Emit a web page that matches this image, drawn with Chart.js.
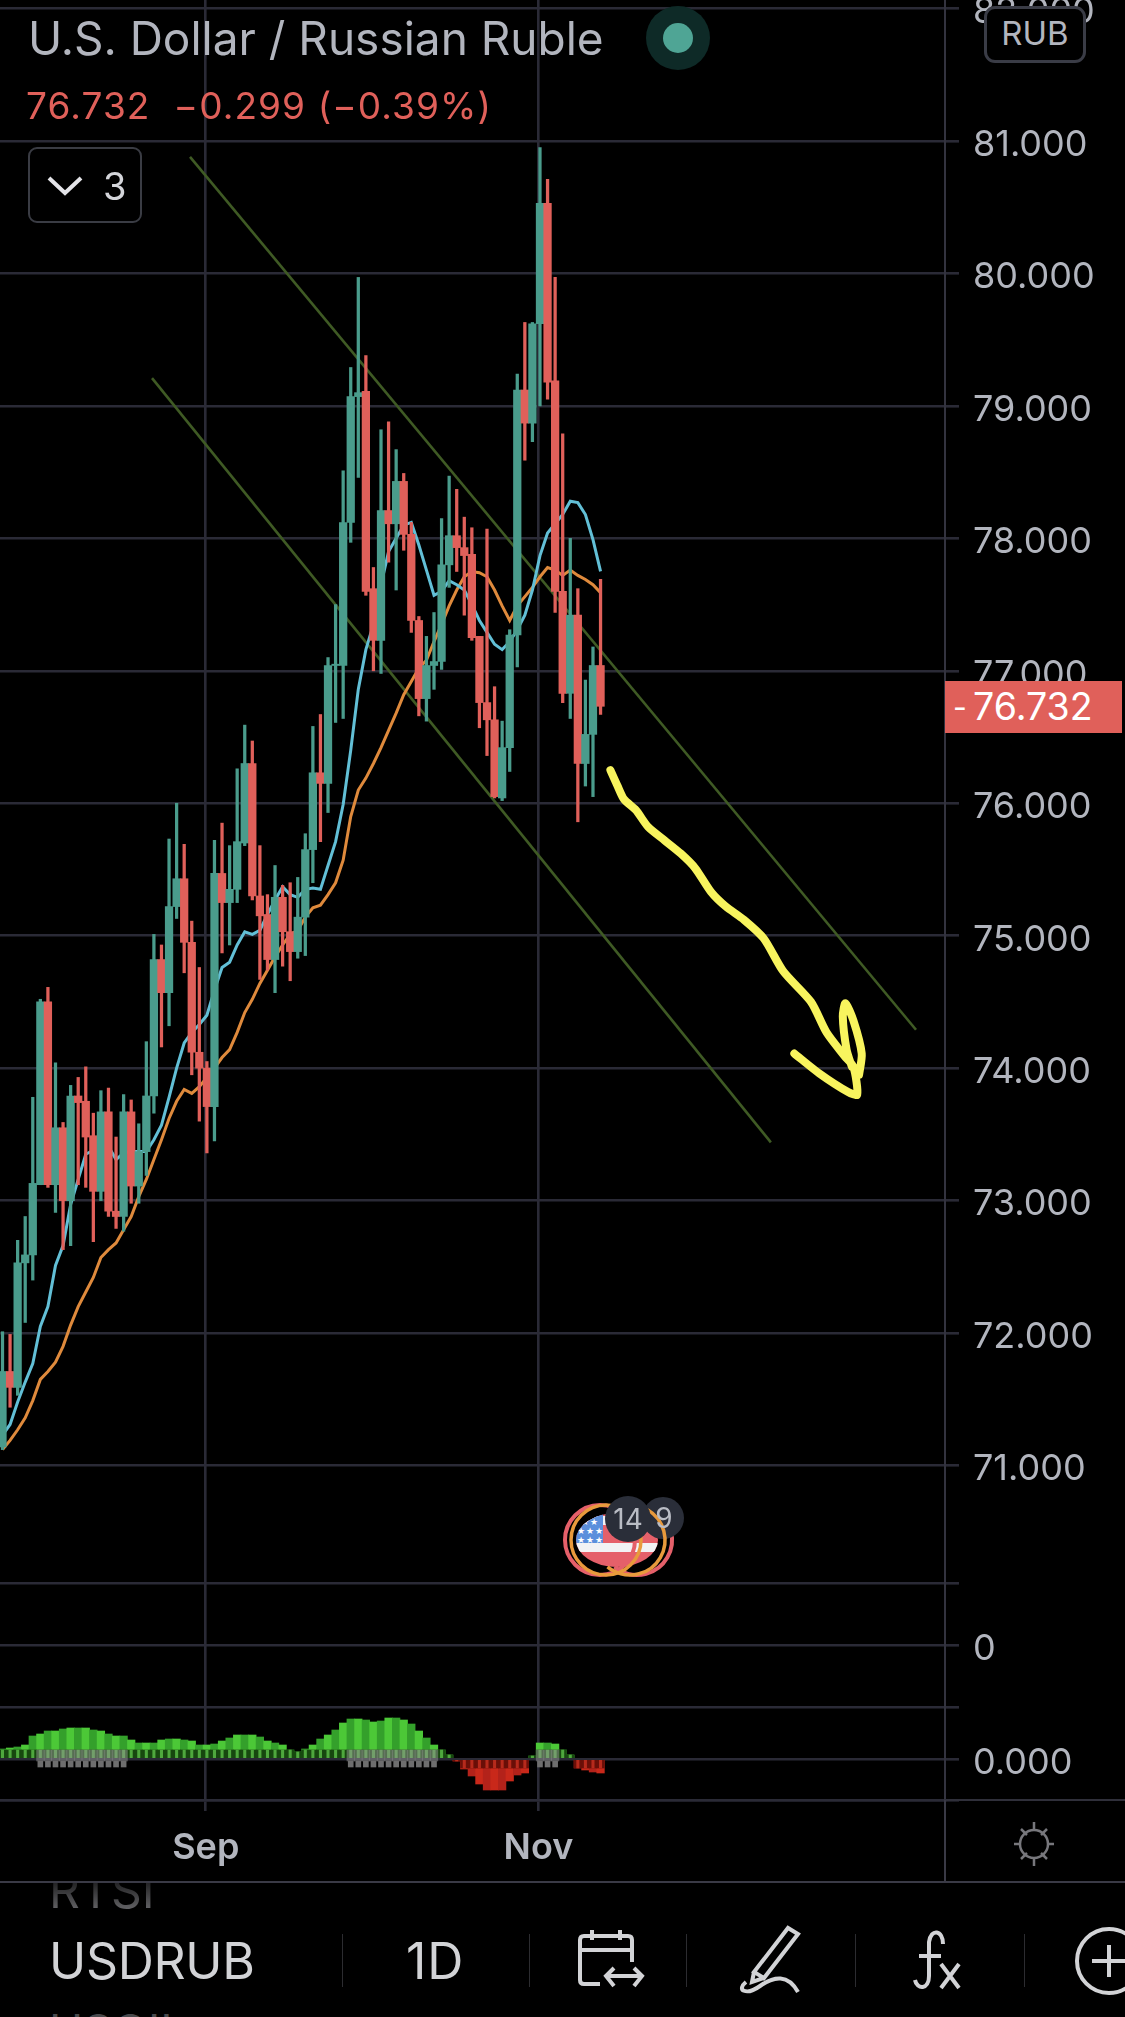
<!DOCTYPE html>
<html>
<head>
<meta charset="utf-8">
<title>USDRUB</title>
<script src="https://cdn.jsdelivr.net/npm/chart.js@4/dist/chart.umd.min.js"></script>
<style>
  html, body { margin: 0; padding: 0; background: #000; }
  body { width: 1125px; height: 2017px; position: relative; overflow: hidden; font-family: Inter, Roboto, sans-serif; color: #b2b5be; }
  #chart { position: absolute; left: 0; top: 0; }
  .abs { position: absolute; white-space: nowrap; }
  .vline { position: absolute; width: 1px; top: 1934px; height: 53px; background: #2c2c30; }
</style>
</head>
<body>
<canvas id="chart" width="1125" height="1882"></canvas>

<!-- header -->
<div class="abs" id="title" style="left:28px;top:11px;font-size:46px;line-height:54px;">U.S. Dollar / Russian Ruble</div>
<div class="abs" style="left:26px;top:84px;font-size:37px;line-height:44px;letter-spacing:1.1px;color:#e0605a;">76.732&nbsp; −0.299 (−0.39%)</div>
<div class="abs" style="left:646px;top:6px;width:64px;height:64px;border-radius:50%;background:#0e2a27;"></div>
<div class="abs" style="left:663px;top:23px;width:30px;height:30px;border-radius:50%;background:#4fa595;"></div>
<div class="abs" style="left:28px;top:147px;width:114px;height:76px;border:2px solid #3a3c44;border-radius:9px;box-sizing:border-box;"></div>
<svg class="abs" style="left:46px;top:174px" width="40" height="24"><path d="M3 4 L19 19 L35 4" fill="none" stroke="#e4e4e8" stroke-width="4"/></svg>
<div class="abs" style="left:103px;top:164px;font-size:38px;line-height:44px;color:#d4d5da;">3</div>
<div class="abs" style="left:984px;top:6px;width:102px;height:57px;border:3px solid #3a3c46;border-radius:11px;box-sizing:border-box;background:#000;text-align:center;font-size:33px;line-height:49px;">RUB</div>

<!-- last price tag -->
<div class="abs" style="left:945px;top:681px;width:177px;height:52px;background:#e0605a;color:#fff;font-size:37.5px;line-height:52px;">
  <span class="abs" style="left:8px;font-size:30px;">-</span><span class="abs" style="left:28px;">76.732</span>
</div>

<!-- event bubbles -->
<svg class="abs" style="left:550px;top:1480px" width="140" height="110" viewBox="550 1480 140 110">
  <defs><clipPath id="flagClip"><ellipse cx="617" cy="1540" rx="41" ry="27"/></clipPath></defs>
  <g clip-path="url(#flagClip)">
    <rect x="570" y="1505" width="100" height="70" fill="#e5606a"/>
    <rect x="570" y="1516" width="100" height="9" fill="#f2f2f4"/>
    <rect x="570" y="1543" width="100" height="9" fill="#f2f2f4"/>
    <rect x="570" y="1510" width="33" height="33" fill="#5b8fdc"/>
    <g fill="#fff" font-size="9" font-family="DejaVu Sans">
      <text x="581" y="1525">★</text><text x="590" y="1525">★</text>
      <text x="577" y="1534">★</text><text x="586" y="1534">★</text><text x="595" y="1534">★</text>
      <text x="577" y="1543">★</text><text x="586" y="1543">★</text><text x="595" y="1543">★</text>
    </g>
  </g>
  <circle cx="600" cy="1540" r="35" fill="none" stroke="#e5606a" stroke-width="4"/>
  <circle cx="637" cy="1540" r="35" fill="none" stroke="#e5606a" stroke-width="4" pathLength="360" stroke-dasharray="190 170" transform="rotate(-60 637 1540)"/>
  <circle cx="606" cy="1540" r="35" fill="none" stroke="#e89a3c" stroke-width="3.5"/>
  <circle cx="663" cy="1518" r="21" fill="#2a2e39"/>
  <circle cx="630" cy="1540" r="35" fill="none" stroke="#e89a3c" stroke-width="3.5" pathLength="360" stroke-dasharray="190 170" transform="rotate(-60 630 1540)"/>
  <circle cx="628" cy="1519" r="23" fill="#2a2e39"/>
  <text x="628" y="1529" text-anchor="middle" font-size="28" fill="#b9bcc4" font-family="Inter">14</text>
  <text x="664" y="1528" text-anchor="middle" font-size="28" fill="#b9bcc4" font-family="Inter">9</text>
</svg>

<!-- bottom rules -->
<div class="abs" style="left:945px;top:1799px;width:180px;height:2px;background:#2f2f3a;"></div>
<div class="abs" style="left:944px;top:1800px;width:2px;height:82px;background:#3a3a46;"></div>
<div class="abs" style="left:0;top:1881px;width:1125px;height:2px;background:#3a3a46;"></div>

<!-- sun icon -->
<svg class="abs" style="left:1008px;top:1820px" width="52" height="48" viewBox="0 0 52 48" fill="none" stroke="#77777c" stroke-width="2.5">
  <circle cx="26" cy="24" r="14"/>
  <path d="M26 2V10 M26 38V46 M6 24H12 M40 24H46 M13 9l6 6 M39 9l-6 6 M13 39l6-6 M39 39l-6-6"/>
</svg>

<!-- toolbar -->
<div class="abs" style="left:0;top:1883px;width:1125px;height:33px;overflow:hidden;">
  <div class="abs" style="left:49px;top:-19px;font-size:48px;line-height:54px;background:linear-gradient(#1c1c1e 30%,#6a6a6d 90%);-webkit-background-clip:text;background-clip:text;color:transparent;">RTSI</div>
</div>
<div class="abs" style="left:49px;top:1933px;font-size:50px;line-height:56px;letter-spacing:-0.3px;color:#d2d3d6;">USDRUB</div>
<div class="abs" style="left:406px;top:1933px;font-size:50px;line-height:56px;letter-spacing:1px;color:#d2d3d6;">1D</div>
<div class="vline" style="left:342px"></div>
<div class="vline" style="left:529px"></div>
<div class="vline" style="left:686px"></div>
<div class="vline" style="left:855px"></div>
<div class="vline" style="left:1024px"></div>
<svg class="abs" style="left:570px;top:1920px" width="80" height="80" fill="none" stroke="#d2d3d6" stroke-width="4">
  <path d="M30 64H14 Q10 64 10 60V20 Q10 16 14 16H58 Q62 16 62 20V42"/>
  <path d="M10 30H62 M22 10V20 M50 10V20"/>
  <path d="M38 56H70 M44 48L36 56L44 66 M64 48L72 56L64 66"/>
</svg>
<svg class="abs" style="left:738px;top:1920px" width="70" height="80" fill="none" stroke="#d2d3d6" stroke-width="4">
  <path d="M16 52L50 8 L60 14 L26 58 Z M16 52L14 62L26 58"/>
  <path d="M8 62 C-2 70 8 76 22 66 C36 56 50 54 60 72"/>
</svg>
<svg class="abs" style="left:905px;top:1920px" width="70" height="76" fill="none" stroke="#d2d3d6" stroke-width="4">
  <path d="M38 24 C38 10 26 8 24 22 L24 56 C24 70 12 70 10 60 M14 36H36"/>
  <path d="M36 44L54 68 M54 44L36 68"/>
</svg>
<svg class="abs" style="left:1070px;top:1920px" width="55" height="80" fill="none" stroke="#d2d3d6" stroke-width="4">
  <circle cx="39" cy="41" r="32"/>
  <path d="M39 25V57 M22 41H55"/>
</svg>
<div class="abs" style="left:0;top:2010px;width:1125px;height:7px;overflow:hidden;">
  <div class="abs" style="left:49px;top:-6px;font-size:46px;line-height:54px;color:#48494c;">USOIL</div>
</div>

<script>
// candles, one per trading day
const opens = [71.14,71.71,71.59,72.53,72.59,73.12,74.50,73.12,73.55,73.00,73.79,73.75,73.49,73.07,73.67,72.92,72.88,73.67,73.11,73.37,
  73.79,74.82,74.57,75.22,75.43,74.95,74.12,74.00,73.71,75.47,75.25,75.35,75.70,76.30,75.30,75.16,74.82,75.29,75.03,74.88,
  75.14,75.65,76.23,76.15,77.04,77.04,78.12,79.07,79.11,77.62,77.23,78.21,78.11,78.43,78.03,77.38,76.79,77.04,77.07,77.80,
  78.02,77.93,77.88,77.26,76.76,76.63,76.04,76.42,77.27,79.12,78.87,79.62,80.53,79.19,77.60,76.83,77.42,76.30,76.52,77.04];
const highs = [72.01,71.99,72.70,72.88,73.78,74.52,74.61,74.04,73.59,73.87,73.93,74.01,73.66,73.83,73.85,73.48,73.80,73.76,73.58,74.20,
  75.01,74.93,75.73,76.00,75.69,75.11,74.76,74.05,75.72,75.85,75.68,76.26,76.59,76.47,75.68,75.31,75.53,75.38,75.40,75.44,
  75.77,76.58,76.67,77.10,77.50,78.51,79.29,79.97,79.38,77.78,78.82,78.88,78.67,78.49,78.12,77.41,77.26,77.44,78.15,78.47,
  78.37,78.16,78.08,77.26,78.07,76.88,76.62,77.31,79.24,79.63,79.63,80.95,80.71,79.97,78.79,78.00,77.62,76.93,77.18,77.69];
const lows = [71.12,71.44,71.53,72.08,72.40,73.12,73.10,72.91,72.63,72.66,73.12,73.10,72.69,73.00,72.88,72.79,72.77,72.98,72.98,73.19,
  73.66,74.16,74.32,75.13,74.72,73.95,73.60,73.36,73.45,74.87,74.93,75.25,75.68,75.27,74.67,74.74,74.57,74.77,74.66,74.83,
  74.85,75.40,75.71,75.93,76.61,76.64,77.97,78.46,77.57,77.00,76.98,77.82,77.61,77.91,77.29,76.66,76.62,76.86,77.01,77.63,
  77.75,77.42,77.23,76.57,76.36,76.04,76.02,76.24,77.03,78.59,78.73,79.00,79.05,77.44,76.76,76.64,75.86,76.13,76.05,76.67];
const closes = [71.71,71.59,72.53,72.59,73.13,74.50,73.12,73.55,73.00,73.79,73.74,73.48,73.07,73.67,72.92,72.88,73.67,73.11,73.37,73.79,
  74.82,74.57,75.22,75.43,74.95,74.12,74.00,73.71,75.47,75.25,75.35,75.71,76.30,75.30,75.15,74.82,75.29,75.03,74.88,75.14,
  75.65,76.23,76.15,77.04,77.05,78.12,79.07,79.10,77.60,77.23,78.21,78.11,78.43,78.03,77.38,76.79,77.04,77.07,77.80,78.02,
  77.93,77.87,77.25,76.76,76.63,76.05,76.42,77.27,79.12,78.87,79.62,80.53,79.18,77.60,76.83,77.42,76.30,76.52,77.04,76.732];

// moving averages
const maFast = [71.23,71.31,71.48,71.63,71.77,72.05,72.20,72.51,72.66,72.97,73.16,73.35,73.38,73.40,73.41,73.31,73.36,73.37,73.37,73.37,
  73.46,73.57,73.78,74.00,74.19,74.27,74.33,74.40,74.59,74.76,74.80,74.93,75.03,75.01,75.04,75.16,75.27,75.37,75.31,75.29,
  75.35,75.36,75.35,75.53,75.71,75.99,76.40,76.86,77.16,77.35,77.65,77.90,78.00,78.10,78.12,77.95,77.76,77.57,77.60,77.68,
  77.65,77.61,77.50,77.38,77.29,77.20,77.16,77.22,77.31,77.42,77.61,77.87,78.04,78.11,78.18,78.28,78.27,78.18,77.99,77.75];
const maSlow = [71.12,71.19,71.27,71.36,71.49,71.65,71.71,71.78,71.90,72.06,72.20,72.31,72.42,72.57,72.63,72.68,72.78,72.88,73.03,73.16,
  73.31,73.46,73.62,73.75,73.84,73.81,73.86,73.93,74.00,74.08,74.14,74.27,74.42,74.52,74.64,74.74,74.84,74.93,75.01,75.04,
  75.14,75.21,75.23,75.31,75.40,75.57,75.90,76.10,76.19,76.30,76.42,76.55,76.68,76.82,76.92,77.02,77.08,77.22,77.35,77.49,
  77.61,77.71,77.75,77.74,77.71,77.61,77.49,77.38,77.49,77.56,77.63,77.71,77.78,77.76,77.72,77.76,77.72,77.69,77.65,77.59];

// oscillator pane
const oscHist = [.10,.11,.12,.14,.23,.25,.28,.28,.30,.31,.31,.31,.29,.28,.25,.23,.23,.19,.16,.16,
  .16,.19,.20,.20,.19,.18,.14,.14,.15,.18,.21,.24,.24,.24,.22,.18,.16,.14,.09,.07,
  .10,.14,.20,.24,.29,.36,.40,.40,.39,.37,.38,.41,.41,.39,.35,.28,.21,.14,.09,.04,
  -.02,-.10,-.17,-.25,-.31,-.31,-.31,-.22,-.16,-.14,.03,.16,.16,.15,.09,.04,-.09,-.11,-.13,-.14];
const oscGrayDays = [5,6,7,8,9,10,11,12,13,14,15,16,46,47,48,49,50,51,52,53,54,55,56,57,71,72,73];

// drawn channel lines and the yellow scribble, in day / price units
const channelUpperX = [24.77, 120.67];
const channelUpperY = [80.88, 74.29];
const channelLowerX = [19.75, 101.5];
const channelLowerY = [79.21, 73.44];
const scribbleX = [80.3,81.25,82.1,83.65,85.3,87.45,89.6,91.5,93.6,95.55,97.95,100.55,103.15,106.8,108.85,111.25,112.4,112.9,111.7,107.9,104.6,null,
  113.15,113.5,112.4,111.35,111.0,111.5,112.2];
const scribbleY = [76.25,76.13,76.03,75.95,75.82,75.72,75.62,75.51,75.33,75.22,75.12,74.98,74.73,74.50,74.27,74.09,74.01,73.80,73.82,73.96,74.11,null,
  73.95,74.11,74.36,74.49,74.39,74.14,74.01];

// axes
const priceTicks = [71,72,73,74,75,76,77,78,79,80,81,82];
const eventTicks = [1,0,-1];
const oscTicks = [0,-0.41];
const monthTicks = [26.85,70.8];
const monthLabels = ["Sep","Nov"];

const GREEN = "#4a9c8c";
const RED = "#e0605a";
const GRID = "#2a2a36";
const TEXT = "#b2b5be";
const tickFont = { family: "Inter", size: 36 };

const days = closes.map((c, i) => i);
const pairUp = (xs, ys) => xs.map((x, i) => ({ x: x, y: ys[i] }));
const candleColor = days.map((i) => (closes[i] >= opens[i] ? GREEN : RED));

const bars = (opts) => Object.assign({ type: "bar", grouped: false, categoryPercentage: 1, barPercentage: 1 }, opts);
const lines = (opts) => Object.assign({ type: "line", pointRadius: 0, tension: 0, fill: false }, opts);

const oscBand = oscHist.map((v, i) => ({ x: i, y: v > 0 ? Math.min(v, 0.09) : Math.max(v, -0.09) }));
const grayUp = oscGrayDays.map((i) => ({ x: i, y: [-0.02, 0.09] }));
const grayDown = oscGrayDays.map((i) => ({ x: i, y: [-0.02, -0.08] }));

const datasets = [
  lines({ order: 0, data: pairUp(scribbleX, scribbleY), borderColor: "#f8f45e", borderWidth: 8, borderCapStyle: "round", borderJoinStyle: "round", spanGaps: false, tension: 0.25 }),
  bars({ order: 1, data: days.map((i) => ({ x: i, y: [opens[i], closes[i]] })), backgroundColor: candleColor, barThickness: 7.6 }),
  bars({ order: 2, data: days.map((i) => ({ x: i, y: [lows[i], highs[i]] })), backgroundColor: candleColor, barThickness: 2.6 }),
  lines({ order: 3, data: pairUp(days, maFast), borderColor: "#62bfd6", borderWidth: 3 }),
  lines({ order: 4, data: pairUp(days, maSlow), borderColor: "#df8a3c", borderWidth: 3 }),
  lines({ order: 5, data: pairUp(channelUpperX, channelUpperY), borderColor: "#3f5a24", borderWidth: 2.6 }),
  lines({ order: 6, data: pairUp(channelLowerX, channelLowerY), borderColor: "#3f5a24", borderWidth: 2.6 }),
  // oscillator: gray overlays, comb ticks, dark band, then the humps
  bars({ order: 7, yAxisID: "osc", data: grayDown, backgroundColor: "#6e6e6e", barThickness: 5 }),
  bars({ order: 8, yAxisID: "osc", data: grayUp, backgroundColor: "rgba(150,150,150,0.5)", barThickness: 7.6 }),
  bars({ order: 9, yAxisID: "osc", data: oscBand, backgroundColor: (c) => (oscHist[c.dataIndex] > 0 ? "#4fa83e" : "#b62a1c"), barThickness: 2.4 }),
  bars({ order: 10, yAxisID: "osc", data: oscBand, backgroundColor: (c) => (oscHist[c.dataIndex] > 0 ? "#17480f" : "#6a0f08"), barThickness: 7.6 }),
  bars({ order: 11, yAxisID: "osc", data: pairUp(days, oscHist), backgroundColor: (c) => {
    if (oscHist[c.dataIndex] < 0) return c.dataIndex % 2 ? "#c9281a" : "#b3221a";
    return c.dataIndex % 2 ? "#4cc837" : "#34a02b";
  }, barThickness: 7.6 }),
];

// the top tick label sits half off the canvas, so drop the margins chart.js adds for it
const noMargins = (s) => { s.paddingTop = 0; s.paddingBottom = 0; s.paddingLeft = 0; s.paddingRight = 0; };

const valueAxis = (ticks, labelOf, weight, range) => ({
  type: "linear",
  position: "right",
  stack: "panes",
  stackWeight: weight,
  min: range[0],
  max: range[1],
  grid: { color: GRID, lineWidth: 2.6, tickLength: 14, tickColor: GRID },
  border: { display: true, color: "#33333f", width: 2 },
  afterBuildTicks: (s) => { s.ticks = ticks.map((v) => ({ value: v })); },
  afterFit: (s) => { s.width = 180; noMargins(s); },
  ticks: { autoSkip: false, color: TEXT, font: tickFont, padding: 14, labelOffset: 4, crossAlign: "near", callback: labelOf },
});

new Chart(document.getElementById("chart"), {
  type: "bar",
  data: { datasets },
  options: {
    responsive: false,
    animation: false,
    devicePixelRatio: 1,
    layout: { padding: 0 },
    plugins: { legend: { display: false }, tooltip: { enabled: false } },
    scales: {
      x: {
        type: "linear",
        offset: false,
        min: -0.33,
        max: 124.5,
        position: "bottom",
        grid: { offset: false, color: GRID, lineWidth: 2.6, tickLength: 11, tickColor: GRID },
        border: { display: true, color: GRID, width: 2.6 },
        afterBuildTicks: (s) => { s.ticks = monthTicks.map((v) => ({ value: v })); },
        afterFit: (s) => { s.height = 82; noMargins(s); },
        ticks: {
          autoSkip: false, maxRotation: 0, color: TEXT, padding: 16,
          font: { family: "Inter", size: 36, weight: "600" },
          callback: (v, i) => monthLabels[i],
        },
      },
      y: valueAxis(priceTicks, (v) => v.toFixed(3), 1583, [70.113, 82.0645]),
      eventPane: valueAxis(eventTicks, (v) => (v === 0 ? "0" : ""), 124, [-1, 1]),
      osc: valueAxis(oscTicks, (v) => (v === 0 ? "0.000" : ""), 93, [-0.41, 0.52]),
    },
  },
});
</script>
</body>
</html>
